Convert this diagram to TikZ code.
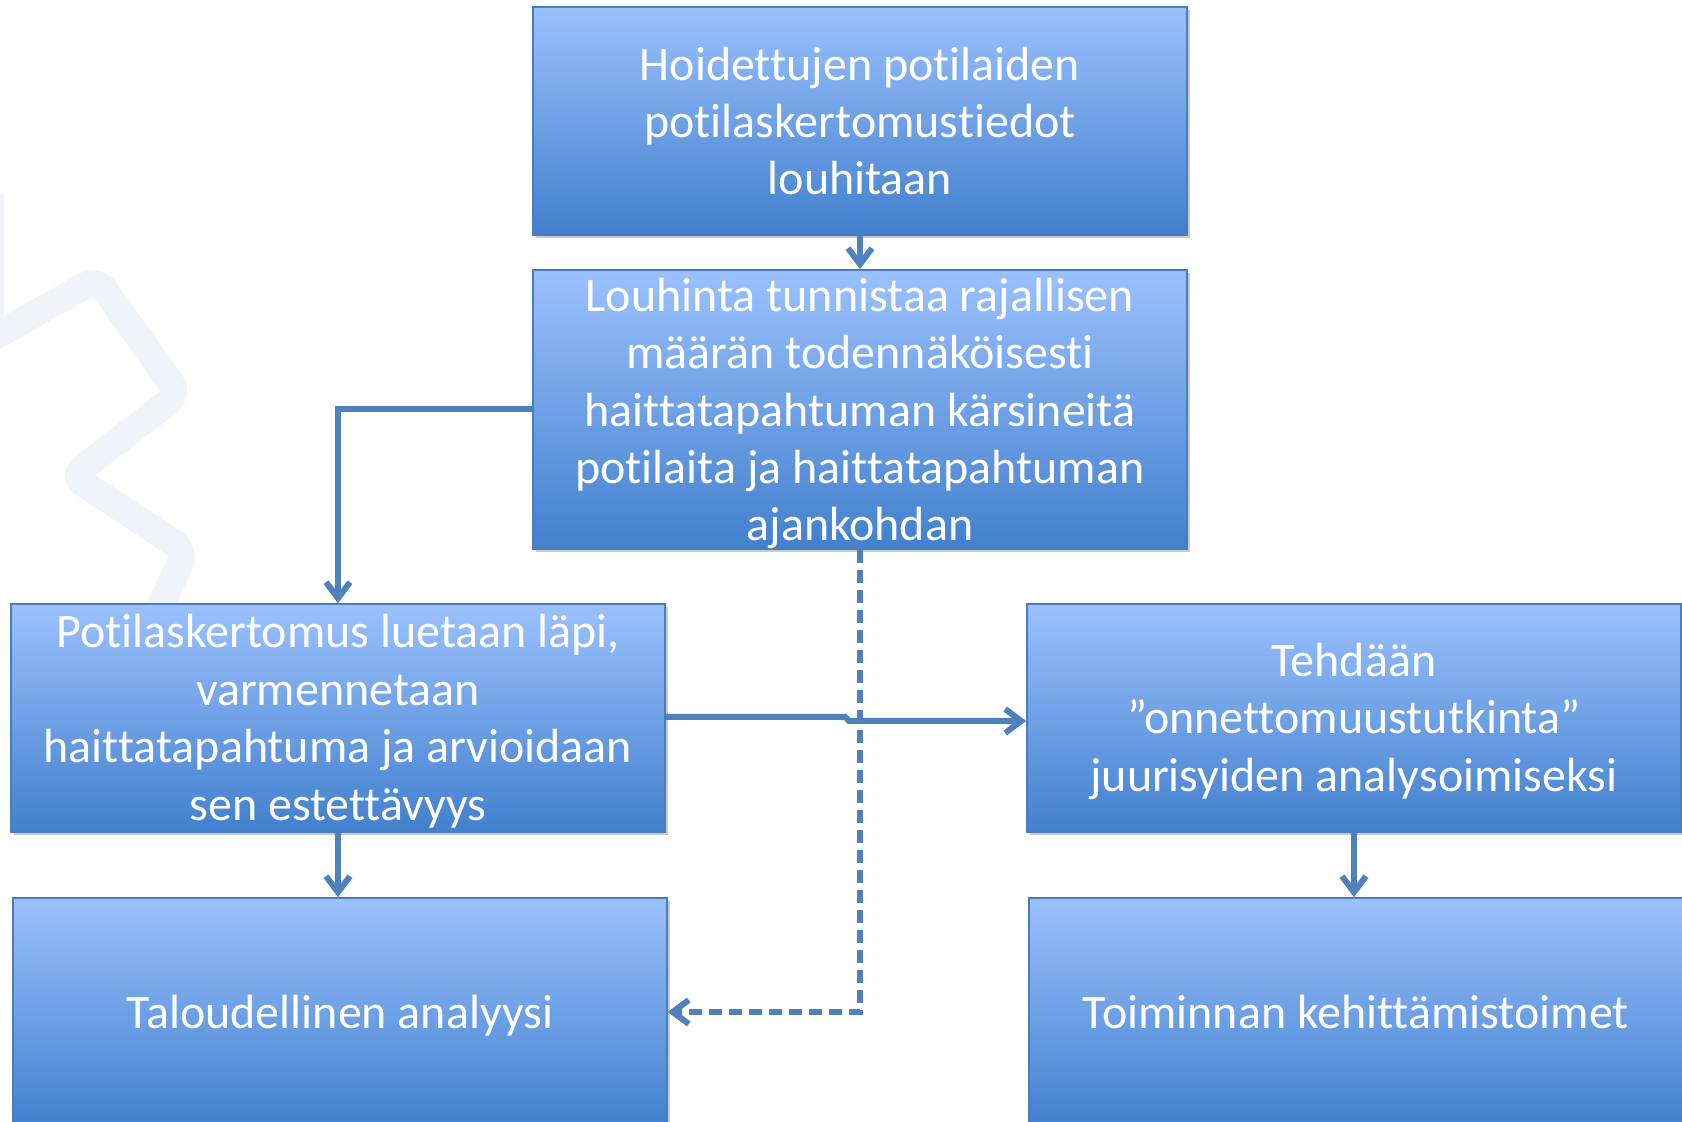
\documentclass[tikz,border=0pt]{standalone}
\usepackage{fontspec}
\setmainfont{Carlito}[Ligatures={NoCommon,NoContextual}]
\usetikzlibrary{arrows.meta,shadows}
\definecolor{boxtop}{RGB}{155,193,253}
\definecolor{boxmid}{RGB}{122,164,230}
\definecolor{boxbot}{RGB}{66,128,205}
\definecolor{boxedge}{RGB}{74,126,187}
\definecolor{conncol}{RGB}{79,129,189}
\definecolor{wmark}{RGB}{240,243,249}
\tikzset{
  box/.style={rectangle, inner sep=0pt, minimum width=327pt, draw=boxedge, line width=0.8pt,
    top color=boxtop, middle color=boxmid, bottom color=boxbot,
    drop shadow={shadow xshift=1.5pt, shadow yshift=-1.5pt, opacity=0.35, fill=black!60}},
  txt/.style={text=white, align=center, inner sep=0pt, font=\fontsize{24}{28.7}\selectfont},
  conn/.style={draw=conncol, line width=3pt, -{Straight Barb[length=8pt,width=12pt]}},
  dconn/.style={conn, dash pattern=on 6.5pt off 3.5pt}
}
\begin{document}
\begin{tikzpicture}[x=0.5pt,y=-0.5pt]
\clip (0,0) rectangle (1682,1122);
\fill[white] (0,0) rectangle (1682,1122);
% faint watermark shape
\draw[wmark, line width=13.5pt, line join=round, rounded corners=7pt]
  (-8,338) -- (97,279) -- (179,394) -- (72,476) -- (186,551) -- (140,650);
\draw[wmark, line width=13.5pt, rounded corners=7pt] (-10,195) -- (-10,340);
% boxes
\node[box, minimum height=113.75pt] (b1) at (860,121) {};
\node[box, minimum height=139.5pt] (b2) at (860,409.5) {};
\node[box, minimum height=114pt] (b3) at (338,718) {};
\node[box, minimum height=114pt] (b4) at (1354,718) {};
\node[box, minimum height=114pt] (b5) at (340,1012) {};
\node[box, minimum height=114pt] (b6) at (1356,1012) {};
% texts
\node[txt] (t1) at (b1) {Hoidettujen potilaiden\\potilaskertomustiedot\\louhitaan};
\node[txt, yshift=-2pt] (t2) at (b2) {Louhinta tunnistaa rajallisen\\määrän todennäköisesti\\haittatapahtuman kärsineitä\\potilaita ja haittatapahtuman\\ajankohdan};
\node[txt, yshift=-1.6pt] (t3) at (b3) {Potilaskertomus luetaan läpi,\\varmennetaan\\haittatapahtuma ja arvioidaan\\sen estettävyys};
\node[txt, yshift=-1.6pt] (t4) at (b4) {Tehdään\\”onnettomuustutkinta”\\juurisyiden analysoimiseksi};
\node[txt, yshift=-1.6pt] (t5) at (b5) {Taloudellinen analyysi};
\node[txt] (t6) at (b6) {Toiminnan kehittämistoimet};
% connectors
\coordinate (j1) at (845,717);
\coordinate (j2) at (849,721);
\draw[dconn] (b2.south) |- (b5.east);
\draw[conn] (b1.south) -- (b2.north);
\draw[conn] (b2.west) -| (b3.north);
\draw[conn] (b3.east |- j1) -- (j1) -- (j2) -- (b4.west |- j2);
\draw[conn] (b3.south) -- (b5.north -| b3.south);
\draw[conn] (b4.south) -- (b6.north -| b4.south);
\end{tikzpicture}
\end{document}
